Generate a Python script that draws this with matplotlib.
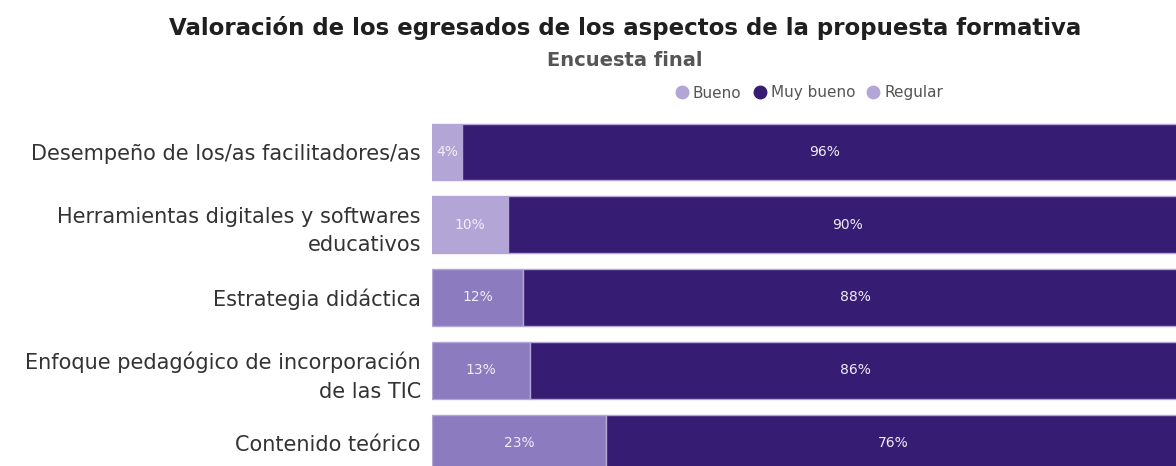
import matplotlib.pyplot as plt
from matplotlib.lines import Line2D

# datos
categorias = [
    "Desempeño de los/as facilitadores/as",
    "Herramientas digitales y softwares\neducativos",
    "Estrategia didáctica",
    "Enfoque pedagógico de incorporación\nde las TIC",
    "Contenido teórico",
]
bueno = [4, 10, 12, 13, 23]
muy_bueno = [96, 90, 88, 86, 76]
regular = [0, 0, 0, 0, 0]

# colores
C_DARK = "#361d73"
C_LIGHT = "#b3a6d6"
C_MED = "#8c7bbf"
colores_bueno = [C_LIGHT, C_LIGHT, C_MED, C_MED, C_MED]

plt.rcParams['font.family'] = ['DejaVu Sans']

fig = plt.figure(figsize=(11.76, 4.66), dpi=100)
W, H = 1176, 466
# ejes en coordenadas de pixel: izquierda 432, arriba 115, hasta el borde
ax = fig.add_axes([432 / W, 0, 1 - 432 / W, (H - 115) / H])

y = list(range(len(categorias)))
alto = 0.78

ax.barh(y, bueno, height=alto, color=colores_bueno, edgecolor=C_LIGHT, linewidth=1)
ax.barh(y, muy_bueno, left=bueno, height=alto, color=C_DARK, edgecolor=C_LIGHT, linewidth=1)
izq = [b + m for b, m in zip(bueno, muy_bueno)]
ax.barh(y, regular, left=izq, height=alto, color=C_LIGHT, edgecolor=C_LIGHT, linewidth=0)

for i in y:
    ax.text(bueno[i] / 2, i, f"{bueno[i]}%", ha='center', va='center',
            color='#f0edf7', fontsize=10)
    ax.text(bueno[i] + muy_bueno[i] / 2, i, f"{muy_bueno[i]}%", ha='center', va='center',
            color='#f0edf7', fontsize=10)

ax.set_xlim(0, 98.5)
ax.set_ylim(4.315, -0.507)
ax.set_yticks(y)
ax.set_yticklabels(categorias, fontsize=15, color='#333333', ha='right',
                   multialignment='right', linespacing=1.55)
ax.tick_params(axis='y', length=0, pad=8)
ax.set_xticks([])
for s in ax.spines.values():
    s.set_visible(False)

fig.text(625 / W, 1 - 28 / H, "Valoración de los egresados de los aspectos de la propuesta formativa",
         ha='center', va='center', fontsize=16.5, fontweight='bold', color='#1f1f1f')
fig.text(625 / W, 1 - 61 / H, "Encuesta final", ha='center', va='center',
         fontsize=14, fontweight='bold', color='#555555')

handles = [
    Line2D([], [], marker='o', linestyle='', markersize=9, color=C_LIGHT),
    Line2D([], [], marker='o', linestyle='', markersize=9, color=C_DARK),
    Line2D([], [], marker='o', linestyle='', markersize=9, color=C_LIGHT),
]
leg = fig.legend(handles, ["Bueno", "Muy bueno", "Regular"], ncol=3, frameon=False,
                 loc='center', bbox_to_anchor=(808 / W, 1 - 93 / H), fontsize=11,
                 handletextpad=0.1, columnspacing=0.6, handlelength=1.2)
for t in leg.get_texts():
    t.set_color('#555555')

fig.savefig("out.png", dpi=100)
